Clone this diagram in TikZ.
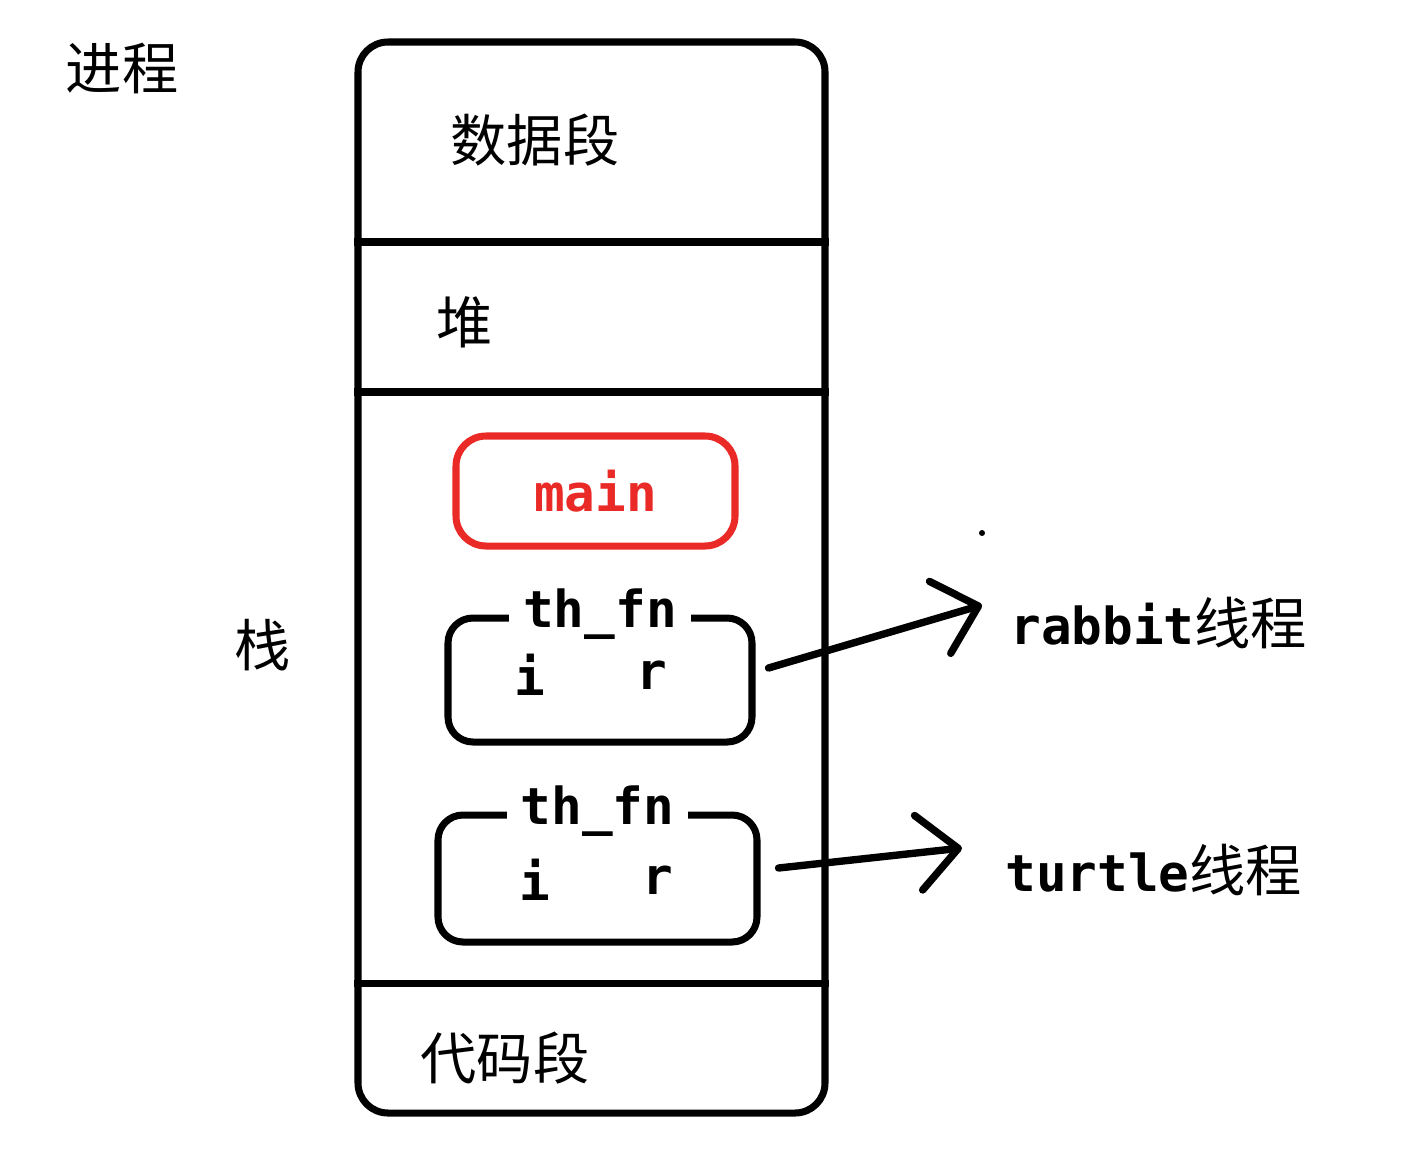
\documentclass[tikz,border=0pt]{standalone}
\usepackage{fontspec}
\newfontfamily\cjk{Noto Sans CJK SC}
\newfontfamily\mono{DejaVu Sans Mono Bold}
\usetikzlibrary{arrows.meta,
	positioning}
\definecolor{mainred}{RGB}{234,42,38}

\tikzset{
  hanzi/.style={font=\cjk\fontsize{32}{36}\selectfont, inner sep=0pt},
  code/.style={font=\mono\fontsize{29}{34}\selectfont, inner sep=0pt},
  frame/.style={draw, line width=4pt, rounded corners=0.6cm},
  stackbox/.style={draw, line width=4pt, rounded corners=0.5cm},
  boxtitle/.style={code, fill=white, inner xsep=8pt, inner ysep=0pt},
  pointer/.style={line width=4.2pt, line cap=round,
    -{Straight Barb[length=8mm,width=15mm,round]}}
}

\begin{document}
\begin{tikzpicture}
        \useasboundingbox (0,0) rectangle (28.5,-23.2);

        \node[hanzi] (title) at (2.44,-1.36) {进程};

        %process memory
        \node[frame, minimum width=9.34cm, minimum height=21.42cm] (proc) at (11.83,-11.55) {};
        \draw[line width=4pt] (proc.west |- 0,-4.84) -- (proc.east |- 0,-4.84);
        \draw[line width=4pt] (proc.west |- 0,-7.84) -- (proc.east |- 0,-7.84);
        \draw[line width=4pt] (proc.west |- 0,-19.66) -- (proc.east |- 0,-19.66);

        \node[hanzi] (data) at (10.7,-2.8) {数据段};
        \node[hanzi] (heap) at (9.3,-6.44) {堆};
        \node[hanzi] (stack) at (5.26,-12.9) {栈};
        \node[hanzi] (text) at (10.1,-21.16) {代码段};

        %main frame
        \node[stackbox, draw=mainred, rounded corners=0.6cm, minimum width=5.58cm,
              minimum height=2.2cm, code, text=mainred] (main) at (11.91,-9.82) {main};

        %th_fn frames
        \node[stackbox, minimum width=6.08cm, minimum height=2.48cm] (th1) at (12.0,-13.6) {};
        \node[boxtitle] (th1name) at (th1.north) {th\_fn};
        \node[code] (th1i) at ([shift={(-1.4,0.1)}]th1.center) {i};
        \node[code] (th1r) at ([shift={(1.04,0.1)}]th1.center) {r};

        \node[stackbox, minimum width=6.38cm, minimum height=2.54cm] (th2) at (11.95,-17.57) {};
        \node[boxtitle] (th2name) at (th2.north) {th\_fn};
        \node[code] (th2i) at ([shift={(-1.25,-0.03)}]th2.center) {i};
        \node[code] (th2r) at ([shift={(1.21,-0.03)}]th2.center) {r};

        %threads
        \node[code, anchor=west] (rabbit) at (20.2,-12.46) {rabbit{\cjk\fontsize{32}{36}\selectfont 线程}};
        \node[code, anchor=west] (turtle) at (20.1,-17.4) {turtle{\cjk\fontsize{32}{36}\selectfont 线程}};
        \draw[pointer] ([shift={(0.26,0.24)}]th1.east) -- ([shift={(-0.56,0.36)}]rabbit.west);
        \draw[pointer] ([shift={(0.36,0.21)}]th2.east) -- ([shift={(-0.86,0.44)}]turtle.west);

        \fill (19.64,-10.66) circle (0.06);
\end{tikzpicture}
\end{document}
